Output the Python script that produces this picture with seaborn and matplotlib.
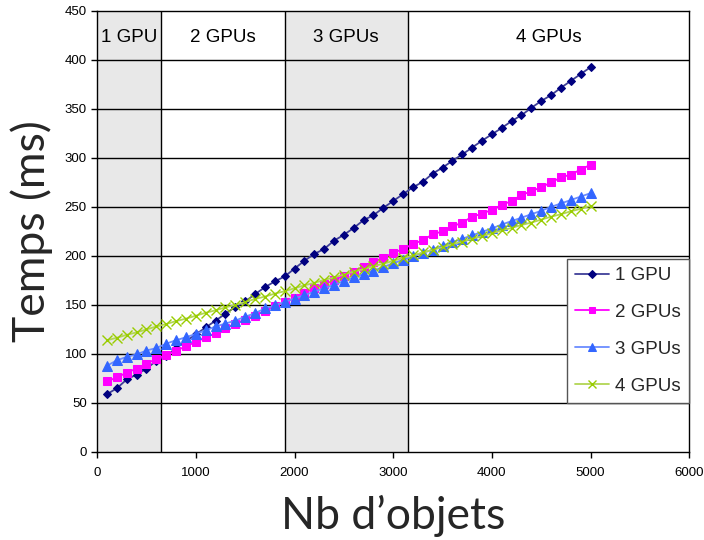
import matplotlib
matplotlib.use("Agg")
import matplotlib.pyplot as plt
import numpy as np
import pandas as pd
import seaborn as sns

# number of objects (x) and time in ms for each GPU count
nb_objets = list(range(100, 5001, 100))

gpu1 = [59, 65, 74, 79, 85, 93, 98, 106, 113, 120,
        127, 134, 141, 148, 153.5, 161, 168, 174, 179, 187,
        195, 202, 207, 215.5, 221.5, 228.5, 236.5, 241.5, 249, 256,
        263, 270, 275.5, 284, 290, 297, 303.5, 310.5, 317.5, 324,
        330.5, 337.5, 343.5, 351, 358, 364, 371.5, 378.5, 385.5, 392.5]
gpu2 = [72, 76, 81, 85, 90, 95, 99, 103, 108, 112,
        117, 121, 126, 131, 135, 139, 144, 149, 153, 157,
        162, 167, 171, 175, 180, 184, 189, 194, 198, 203,
        207, 212, 216, 222, 225, 230, 234, 240, 243, 247,
        252, 256, 262, 266, 270, 275, 280, 283, 288, 293]
gpu3 = [88, 93.5, 97, 99.5, 103.5, 106, 110.5, 114, 117, 120.5,
        124, 128, 131, 134, 138, 141.5, 146.5, 149.5, 153, 156.5,
        160, 163.5, 167, 170.5, 174.5, 178, 181.5, 185, 188.5, 192.5,
        196, 199.5, 203, 206.5, 210.5, 214, 217.5, 221, 224.5, 228,
        232, 235.5, 239, 242.5, 246, 250, 253.5, 257, 260.5, 264]
gpu4 = [114, 116.5, 119.5, 122, 125, 128, 130.5, 133.5, 136, 139,
        142, 144.5, 147.5, 150, 153, 156, 158.5, 161.5, 164, 167,
        170, 172.5, 175.5, 178, 181, 184, 186.5, 189.5, 192, 195,
        198, 200.5, 203.5, 206, 209, 212, 214.5, 217.5, 220, 223,
        226, 228.5, 231.5, 234, 237, 240, 242.5, 245.5, 248, 251]

series_labels = ["1 GPU", "2 GPUs", "3 GPUs", "4 GPUs"]
region_bounds = [0, 650, 1900, 3150, 6000]
region_labels = ["1 GPU", "2 GPUs", "3 GPUs", "4 GPUs"]

sns.set_style("white")
plt.rcParams['font.family'] = ['Liberation Sans', 'DejaVu Sans']

fig = plt.figure(figsize=(7.04, 5.40), dpi=100)
ax = fig.add_axes([0.138, 0.163, 0.841, 0.817])

# shaded regions + labels
for i in range(len(region_labels)):
    lo, hi = region_bounds[i], region_bounds[i + 1]
    if i % 2 == 0:
        ax.axvspan(lo, hi, color="#e8e8e8", zorder=0, lw=0)
    ax.text((lo + hi) / 2, 423, region_labels[i], ha="center", va="center",
            fontsize=13.5, color="black", zorder=3)
for b in region_bounds[1:-1]:
    ax.axvline(b, color="black", lw=1, zorder=1)
for yv in range(50, 450, 50):
    ax.axhline(yv, color="black", lw=1, zorder=1)

styles = [
    dict(marker="D", color="#3f3f99", markerfacecolor="#000080", markeredgecolor="#000080", markersize=4.5),
    dict(marker="s", color="#ff00ff", markerfacecolor="#ff00ff", markeredgecolor="#ff00ff", markersize=6),
    dict(marker="^", color="#6b8cff", markerfacecolor="#3366ff", markeredgecolor="#3366ff", markersize=7),
    dict(marker="x", color="#b2d654", markerfacecolor="#99cc00", markeredgecolor="#99cc00", markersize=7, markeredgewidth=1),
]
for vals, lab, st in zip([gpu1, gpu2, gpu3, gpu4], series_labels, styles):
    df = pd.DataFrame({"x": nb_objets, "y": vals})
    sns.lineplot(data=df, x="x", y="y", ax=ax, label=lab, lw=1.3, zorder=4, **st)

ax.set_xlim(0, 6000)
ax.set_ylim(0, 450)
ax.set_xticks(range(0, 6001, 1000))
ax.set_yticks(range(0, 451, 50))
ax.tick_params(axis="both", direction="out", length=4, width=1, labelsize=9.5,
               bottom=True, left=True, colors="black")
ax.tick_params(axis="x", pad=7)
for s in ax.spines.values():
    s.set_color("black")
    s.set_linewidth(1)

ax.set_xlabel("Nb d\u2019objets", fontsize=32, family=["Lato", "DejaVu Sans"], labelpad=11)
ax.set_ylabel("Temps (ms)", fontsize=32, family=["Lato", "DejaVu Sans"], labelpad=8)

leg = ax.legend(loc="lower right", bbox_to_anchor=(1.0, 50 / 450), fontsize=13.5,
                frameon=True, fancybox=False, framealpha=1, edgecolor="#555555",
                borderpad=0.45, labelspacing=1.05, handlelength=1.8, handletextpad=0.33,
                borderaxespad=0, markerscale=0.8)
leg.set_zorder(6)

fig.savefig("out.png", dpi=100)
